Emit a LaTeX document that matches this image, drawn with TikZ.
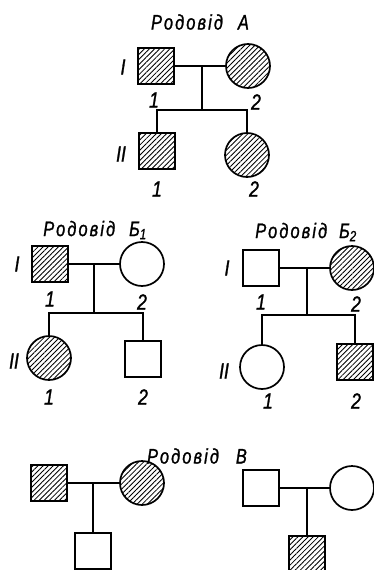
\documentclass[tikz,border=0pt]{standalone}
\usepackage{fontspec}
\setmainfont{Liberation Sans}
\newfontfamily\pedfont[FakeStretch=0.8,FakeBold=1.2]{Liberation Sans}
\newfontfamily\headfont[FakeStretch=0.78,LetterSpace=10,FakeBold=1.2]{Liberation Sans}
\usetikzlibrary{patterns.meta}

\begin{document}
\begin{tikzpicture}[x=1pt,y=-1pt,
  male/.style={draw, rectangle, minimum size=36pt, inner sep=0pt, line width=1.7pt},
  female/.style={draw, circle, minimum size=44pt, inner sep=0pt, line width=1.7pt},
  affected/.style={pattern={Lines[angle=45,distance=3.6pt,line width=0.85pt]}},
  link/.style={line width=1.4pt},
  lbl/.style={inner sep=0pt, font=\pedfont\itshape\fontsize{22}{24}\selectfont},
  head/.style={inner sep=0pt, font=\headfont\itshape\fontsize{21}{24}\selectfont}]
\useasboundingbox (0,0) rectangle (374,570);

% ---- Pedigree A ----
\node[head] (tA) at (200,22) {Родовід\hspace{15pt}A};
\node[male,affected]   (A11) at (156,66) {};
\node[female,affected] (A12) at (248,66) {};
\node[male,affected]   (A21) at (157,151) {};
\node[female,affected] (A22) at (247,155) {};
\coordinate (mA) at (202,66);
\coordinate (sA) at (202,110);
\draw[link] (A11) -- (A12);
\draw[link] (mA) -- (sA);
\draw[link] (A21.north) |- (sA) -| (A22.north);
\node[lbl] (gA1) at (123,67) {I};
\node[lbl] (gA2) at (121,154) {II};
\node[lbl] (nA11) at (154,100) {1};
\node[lbl] (nA12) at (256,102) {2};
\node[lbl] (nA21) at (157,189) {1};
\node[lbl] (nA22) at (254,189) {2};

% ---- Pedigree B1 ----
\node[head] (tB) at (95,230) {Родовід\hspace{14pt}Б\textsubscript{1}};
\node[male,affected]   (B11) at (50,264) {};
\node[female]          (B12) at (142,264) {};
\node[female,affected] (B21) at (49,358) {};
\node[male]            (B22) at (143,359) {};
\coordinate (mB) at (94,264);
\coordinate (sB) at (94,313);
\draw[link] (B11) -- (B12);
\draw[link] (mB) -- (sB);
\draw[link] (B21.north) |- (sB) -| (B22.north);
\node[lbl] (gB1) at (17,264) {I};
\node[lbl] (gB2) at (14,361) {II};
\node[lbl] (nB11) at (50,299) {1};
\node[lbl] (nB12) at (142,302) {2};
\node[lbl] (nB21) at (49,397) {1};
\node[lbl] (nB22) at (143,397) {2};

% ---- Pedigree B2 ----
\node[head] (tC) at (306,232) {Родовід\hspace{12pt}Б\textsubscript{2}};
\node[male]            (C11) at (261,268) {};
\node[female,affected] (C12) at (352,268) {};
\node[female]          (C21) at (262,367) {};
\node[male,affected]   (C22) at (355,362) {};
\coordinate (mC) at (307,268);
\coordinate (sC) at (307,315);
\draw[link] (C11) -- (C12);
\draw[link] (mC) -- (sC);
\draw[link] (C21.north) |- (sC) -| (C22.north);
\node[lbl] (gC1) at (227,268) {I};
\node[lbl] (gC2) at (224,371) {II};
\node[lbl] (nC11) at (261,302) {1};
\node[lbl] (nC12) at (356,304) {2};
\node[lbl] (nC21) at (268,401) {1};
\node[lbl] (nC22) at (356,401) {2};

% ---- Pedigree V ----
\node[head] (tD) at (197,456) {Родовід\hspace{17pt}В};
\node[male,affected]   (D11) at (49,483) {};
\node[female,affected] (D12) at (142,483) {};
\node[male]            (D21) at (93,551) {};
\coordinate (mD) at (93,483);
\draw[link] (D11) -- (D12);
\draw[link] (mD) -- (D21.north);

\node[male]            (E11) at (261,488) {};
\node[female]          (E12) at (352,488) {};
\node[male,affected]   (E21) at (307,554) {};
\coordinate (mE) at (307,488);
\draw[link] (E11) -- (E12);
\draw[link] (mE) -- (E21.north);
\end{tikzpicture}
\end{document}
